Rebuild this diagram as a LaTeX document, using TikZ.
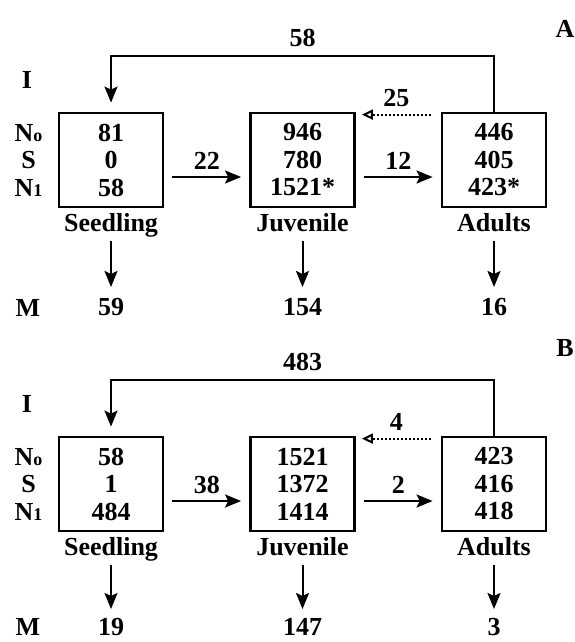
\documentclass[tikz,border=0pt]{standalone}
\usepackage{fontspec}
\setmainfont{Liberation Serif}
\usetikzlibrary{arrows.meta}

\tikzset{
  stage/.style={draw, line width=2.8pt, minimum width=104pt, minimum height=94pt,
                inner sep=0pt, align=center},
  txt/.style={inner sep=0pt, text height=17pt, text depth=0pt},
  lbl/.style={txt, above=#1},
  down/.style={shorten <=8pt, shorten >=10.5pt},
  back/.style={dotted, -{Triangle[open,length=11pt,width=10pt]}},
}
\newcommand{\sm}[1]{{\fontsize{18}{18}\selectfont #1}}

\begin{document}
\begin{tikzpicture}[x=1pt,y=1pt,->,>={Stealth[length=16pt,width=13pt,inset=3pt]},
                    line width=2pt,node distance=191.5pt,
                    every node/.style={font=\bfseries\fontsize{26}{27.5}\selectfont}]
  \useasboundingbox (0,0) rectangle (574,-642);

  % panel A
  \node[txt] (pa) at (565,-29) {A};
  \node[txt] (i1) at (27,-80) {I};
  \node[txt] (n01) at (28.5,-133) {N\sm{o}};
  \node[txt] (sv1) at (28.5,-160) {S};
  \node[txt] (n11) at (28.5,-188) {N\sm{1}};
  \node[txt] (m1) at (28,-307.5) {M};

  \node[stage] (s1) at (111,-160) {81\\0\\58};
  \node[stage] (j1) [right of = s1] {946\\780\\1521*};
  \node[stage] (a1) [right of = j1] {446\\405\\423*};

  \node[txt] (s1n) [below of = s1, node distance=63pt] {Seedling};
  \node[txt] (j1n) [below of = j1, node distance=63pt] {Juvenile};
  \node[txt] (a1n) [below of = a1, node distance=63pt] {Adults};
  \node[txt] (s1m) [below of = s1, node distance=147pt] {59};
  \node[txt] (j1m) [below of = j1, node distance=147pt] {154};
  \node[txt] (a1m) [below of = a1, node distance=147pt] {16};

  \draw ([shift={(8pt,-17pt)}]s1.east) -- node[lbl=7pt] {22} ([shift={(-8pt,-17pt)}]j1.west);
  \draw ([shift={(8pt,-17pt)}]j1.east) -- node[lbl=7pt] {12} ([shift={(-8pt,-17pt)}]a1.west);
  \draw[back] ([shift={(-10pt,-3pt)}]a1.north west) -- node[lbl=7pt] {25} ([shift={(6pt,-3pt)}]j1.north east);
  \draw (a1.north) -- ++(0,56) -| node[pos=0.25, lbl=8pt] {58} ([yshift=9pt]s1.north);
  \draw[down] (s1n) -- (s1m);
  \draw[down] (j1n) -- (j1m);
  \draw[down] (a1n) -- (a1m);

  % panel B
  \node[txt] (pb) at (565,-348) {B};
  \begin{scope}[yshift=-324pt]
  \node[txt] (i2) at (27,-80) {I};
  \node[txt] (n02) at (28.5,-133) {N\sm{o}};
  \node[txt] (sv2) at (28.5,-160) {S};
  \node[txt] (n12) at (28.5,-188) {N\sm{1}};
  \node[txt] (m2) at (28,-302.5) {M};

  \node[stage] (s2) at (111,-160) {58\\1\\484};
  \node[stage] (j2) [right of = s2] {1521\\1372\\1414};
  \node[stage] (a2) [right of = j2] {423\\416\\418};

  \node[txt] (s2n) [below of = s2, node distance=63pt] {Seedling};
  \node[txt] (j2n) [below of = j2, node distance=63pt] {Juvenile};
  \node[txt] (a2n) [below of = a2, node distance=63pt] {Adults};
  \node[txt] (s2m) [below of = s2, node distance=142.5pt] {19};
  \node[txt] (j2m) [below of = j2, node distance=142.5pt] {147};
  \node[txt] (a2m) [below of = a2, node distance=142.5pt] {3};

  \draw ([shift={(8pt,-17pt)}]s2.east) -- node[lbl=7pt] {38} ([shift={(-8pt,-17pt)}]j2.west);
  \draw ([shift={(8pt,-17pt)}]j2.east) -- node[lbl=7pt] {2} ([shift={(-8pt,-17pt)}]a2.west);
  \draw[back] ([shift={(-10pt,-3pt)}]a2.north west) -- node[lbl=7pt] {4} ([shift={(6pt,-3pt)}]j2.north east);
  \draw (a2.north) -- ++(0,56) -| node[pos=0.25, lbl=8pt] {483} ([yshift=9pt]s2.north);
  \draw[down,shorten >=8pt] (s2n) -- (s2m);
  \draw[down,shorten >=8pt] (j2n) -- (j2m);
  \draw[down,shorten >=8pt] (a2n) -- (a2m);
  \end{scope}
\end{tikzpicture}
\end{document}
